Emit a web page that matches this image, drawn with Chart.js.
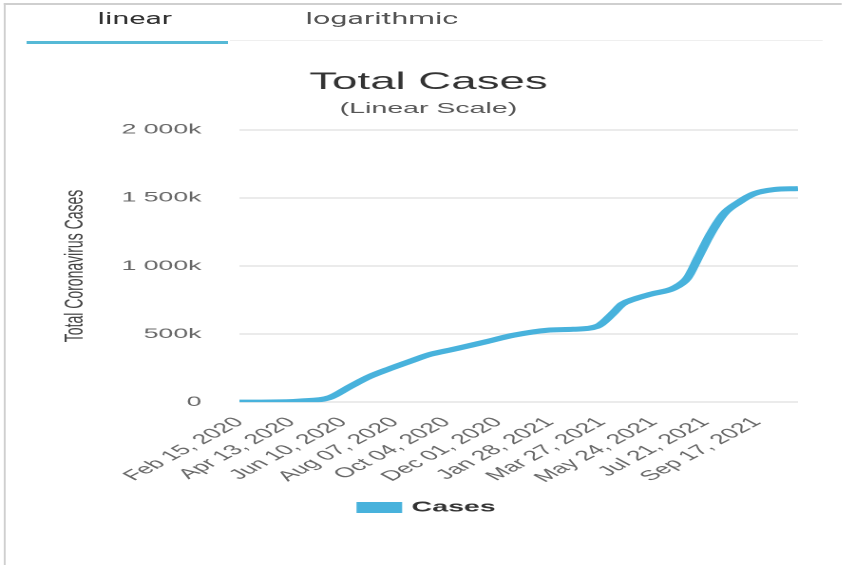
<!DOCTYPE html>
<html>
<head>
<meta charset="utf-8">
<script src="https://cdn.jsdelivr.net/npm/chart.js@4/dist/chart.umd.min.js"></script>
<style>
  html, body { margin: 0; padding: 0; background: #fff; overflow: hidden; }
  /* the reference is a narrow phone layout stretched sideways, so draw narrow and stretch */
  #page { position: absolute; left: 0; top: 0; width: 443px; height: 565px;
          transform: scaleX(1.9); transform-origin: 0 0; }
  #frame { position: absolute; left: 2px; top: 3px; right: 0; bottom: -5px;
           border-top: 2px solid #cfcfcf; border-left: 1px solid #cfcfcf; }
  .tab { position: absolute; top: 8px; width: 106px; text-align: center;
         font: 16px Roboto, "Liberation Sans", sans-serif; line-height: 22px; }
  #tabLinear { left: 18px; color: #333; }
  #tabLog { left: 148px; color: #555; }
  #tabLine { position: absolute; left: 14px; top: 41px; width: 106px; height: 3px; background: #56b9d6; }
  #tabRule { position: absolute; left: 121px; top: 40px; width: 312px; height: 1px; background: #efefef; }
  #box { position: absolute; left: 8px; top: 55px; width: 434px; height: 470px; }
</style>
</head>
<body>
<div id="page">
  <div id="frame"></div>
  <div class="tab" id="tabLinear">linear</div>
  <div class="tab" id="tabLog">logarithmic</div>
  <div id="tabRule"></div>
  <div id="tabLine"></div>
  <div id="box"><canvas id="chart"></canvas></div>
</div>
<script>
// sample points
const dates = [
    '2020-02-15', '2020-03-21', '2020-04-22', '2020-05-26', '2020-06-18', '2020-07-10',
    '2020-08-02', '2020-08-24', '2020-09-16', '2020-10-11', '2020-11-19', '2020-12-18',
    '2021-01-25', '2021-02-23', '2021-03-22', '2021-04-09', '2021-04-19', '2021-05-02',
    '2021-05-21', '2021-06-16', '2021-07-01', '2021-07-13', '2021-07-27', '2021-08-11',
    '2021-08-27', '2021-09-14', '2021-10-06', '2021-11-02'
];
const cases = [
    0, 1000, 8000, 33000, 114000, 188000,
    247000, 299000, 351000, 387000, 446000, 491000,
    528000, 535000, 557000, 655000, 720000, 756000,
    793000, 838000, 911000, 1059000, 1236000, 1384000,
    1465000, 1531000, 1561000, 1568000
];
const tickStepDays = 58;
const yTicks = [0, 500000, 1000000, 1500000, 2000000];
const monthNames = ['Jan', 'Feb', 'Mar', 'Apr', 'May', 'Jun', 'Jul', 'Aug', 'Sep', 'Oct', 'Nov', 'Dec'];

const DAY = 86400000;
const start = Date.parse(dates[0] + 'T00:00:00Z');
const toDay = s => Math.round((Date.parse(s + 'T00:00:00Z') - start) / DAY);
const points = dates.map((d, i) => ({ x: toDay(d), y: cases[i] }));
const lastDay = points[points.length - 1].x;

function dateLabel(day) {
    const d = new Date(start + day * DAY);
    const dd = String(d.getUTCDate()).padStart(2, '0');
    return `${monthNames[d.getUTCMonth()]} ${dd}, ${d.getUTCFullYear()}`;
}

function kLabel(v) {
    if (v === 0) return '0';
    const k = String(Math.round(v / 1000));
    return k.replace(/\B(?=(\d{3})+(?!\d))/g, ' ') + 'k';
}

Chart.defaults.font.family = '"Liberation Sans", Arial, sans-serif';

const lineColor = '#48b2dc';

new Chart(document.getElementById('chart'), {
    type: 'line',
    data: {
        datasets: [{
            label: 'Cases',
            data: points,
            borderColor: lineColor,
            backgroundColor: lineColor,
            borderWidth: 5,
            pointRadius: 0,
            cubicInterpolationMode: 'monotone',
            fill: false
        }]
    },
    options: {
        responsive: true,
        maintainAspectRatio: false,
        animation: false,
        devicePixelRatio: 2,
        layout: { padding: { left: 23, right: 22, top: 0, bottom: 0 } },
        plugins: {
            title: {
                display: true,
                text: 'Total Cases',
                color: '#333',
                font: { size: 24, weight: 'normal' },
                padding: { top: 13, bottom: 0 }
            },
            subtitle: {
                display: true,
                text: '(Linear Scale)',
                color: '#555',
                font: { size: 15 },
                padding: { top: 3, bottom: 12 }
            },
            legend: {
                position: 'bottom',
                labels: {
                    boxWidth: 19,
                    boxHeight: 6,
                    color: '#333',
                    font: { size: 15, weight: 'bold' },
                    padding: 10
                }
            },
            tooltip: { enabled: false }
        },
        scales: {
            x: {
                type: 'linear',
                min: 0,
                max: lastDay,
                grid: { display: false },
                border: { display: false },
                ticks: {
                    stepSize: tickStepDays,
                    autoSkip: false,
                    includeBounds: false,
                    minRotation: 45,
                    maxRotation: 45,
                    padding: 4,
                    color: '#666',
                    font: { size: 14 },
                    callback: v => dateLabel(v)
                }
            },
            y: {
                min: yTicks[0],
                max: yTicks[yTicks.length - 1],
                afterFit: scale => { scale.width = 95; },
                grid: { color: '#ebebeb', lineWidth: 2, drawTicks: false },
                border: { display: false },
                ticks: {
                    stepSize: yTicks[1] - yTicks[0],
                    padding: 20,
                    color: '#666',
                    font: { size: 14 },
                    callback: v => kLabel(v)
                },
                title: {
                    display: true,
                    text: 'Total Coronavirus Cases',
                    color: '#444',
                    font: { size: 14 },
                    padding: { top: 0, bottom: 0 }
                }
            }
        }
    }
});
</script>
</body>
</html>
